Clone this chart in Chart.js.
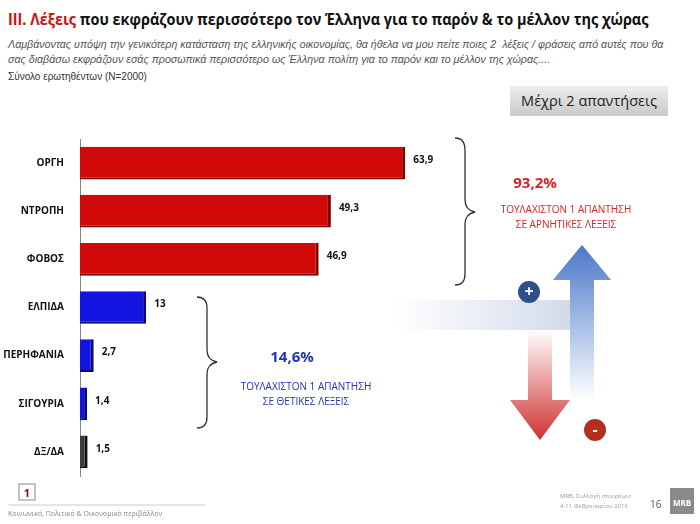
<!DOCTYPE html>
<html><head><meta charset="utf-8">
<script src="https://cdn.jsdelivr.net/npm/chart.js@4"></script>
<style>
body{margin:0;width:700px;height:524px;background:#fff;font-family:"Open Sans","DejaVu Sans",sans-serif;position:relative;overflow:hidden}
.a{position:absolute}
</style></head><body>
<div id="t" class="a" style="left:8px;top:8px;font-size:16px;font-weight:bold;color:#111;white-space:nowrap;font-family:'Open Sans',sans-serif;transform-origin:0 0"><span style="color:#d01010">ΙΙΙ. Λέξεις</span> που εκφράζουν περισσότερο τον Έλληνα για το παρόν &amp; το μέλλον της χώρας</div>
<div class="a" style="left:8px;top:37px;width:690px;font-size:10.7px;font-style:italic;color:#555;line-height:15px;font-family:'Liberation Sans',sans-serif">Λαμβάνοντας υπόψη την γενικότερη κατάσταση της ελληνικής οικονομίας, θα ήθελα να μου πείτε ποιες 2&nbsp; λέξεις / φράσεις από αυτές που θα<br>σας διαβάσω εκφράζουν εσάς προσωπικά περισσότερο ως Έλληνα πολίτη για το παρόν και το μέλλον της χώρας....</div>
<div class="a" style="left:8px;top:71px;font-size:10px;color:#333;font-family:'Liberation Sans',sans-serif">Σύνολο ερωτηθέντων (Ν=2000)</div>
<div class="a" style="left:510px;top:86px;width:158px;height:30px;background:linear-gradient(#eee,#c9c9c9);font-size:14.5px;color:#222;text-align:center;line-height:30px">Μέχρι 2 απαντήσεις</div>
<div class="a" style="left:0;top:125px;width:480px;height:365px"><canvas id="c"></canvas></div>
<svg class="a" style="left:0;top:0" width="700" height="524">
<defs>
<linearGradient id="bl" x1="0" y1="1" x2="0" y2="0"><stop offset="0" stop-color="#fff"/><stop offset="1" stop-color="#4a78c8"/></linearGradient>
<linearGradient id="rd" x1="0" y1="0" x2="0" y2="1"><stop offset="0" stop-color="#fff"/><stop offset="1" stop-color="#d03030"/></linearGradient>
<linearGradient id="bh" x1="0" y1="0" x2="1" y2="0"><stop offset="0" stop-color="#fff"/><stop offset="1" stop-color="#c8d2e6"/></linearGradient>
</defs>
<path d="M395,300 L570,300 L570,280 L553,280 L582,245 L611,280 L594,280 L594,330 L395,330 Z" fill="url(#bh)"/>
<path d="M570,300 L570,280 L553,280 L582,245 L611,280 L594,280 L594,400 L570,400 Z" fill="url(#bl)"/>
<path d="M528,330 L528,400 L510,400 L540,440 L570,400 L552,400 L552,330 Z" fill="url(#rd)"/>
<circle cx="529" cy="292" r="11" fill="#2d4f8a"/><text x="529" y="297" text-anchor="middle" fill="#fff" font-size="16" font-weight="bold">+</text>
<circle cx="595" cy="430" r="11" fill="#b03020"/><text x="595" y="435" text-anchor="middle" fill="#fff" font-size="16" font-weight="bold">-</text>
<path d="M455,138 Q465,138 465,150 L465,200 Q465,210 475,212 Q465,214 465,224 L465,274 Q465,285 455,285" fill="none" stroke="#333" stroke-width="1.3"/>
<path d="M197,297 Q207,297 207,308 L207,350 Q207,360 217,362 Q207,364 207,374 L207,417 Q207,428 197,428" fill="none" stroke="#333" stroke-width="1.3"/>
<text x="535" y="188" text-anchor="middle" fill="#e02020" font-size="15" font-weight="bold" font-family="Open Sans">93,2%</text>
<text x="566" y="213" text-anchor="middle" fill="#e02020" font-size="10" font-family="Open Sans">ΤΟΥΛΑΧΙΣΤΟΝ 1 ΑΠΑΝΤΗΣΗ</text>
<text x="566" y="228" text-anchor="middle" fill="#e02020" font-size="10" font-family="Open Sans">ΣΕ ΑΡΝΗΤΙΚΕΣ ΛΕΞΕΙΣ</text>
<text x="292" y="362" text-anchor="middle" fill="#2233bb" font-size="15" font-weight="bold" font-family="Open Sans">14,6%</text>
<text x="306" y="390" text-anchor="middle" fill="#2233bb" font-size="10" font-family="Open Sans">ΤΟΥΛΑΧΙΣΤΟΝ 1 ΑΠΑΝΤΗΣΗ</text>
<text x="306" y="405" text-anchor="middle" fill="#2233bb" font-size="10" font-family="Open Sans">ΣΕ ΘΕΤΙΚΕΣ ΛΕΞΕΙΣ</text>
<rect x="19" y="484" width="16" height="16" fill="#fff" stroke="#888"/>
<text x="27" y="497" text-anchor="middle" fill="#801010" font-size="11" font-weight="bold">1</text>
<line x1="8" y1="505" x2="205" y2="505" stroke="#ccc"/>
<text x="8" y="516" fill="#888" font-size="7">Κοινωνικό, Πολιτικό &amp; Οικονομικό περιβάλλον</text>
<text x="560" y="498" fill="#999" font-size="6">MRB, Συλλογή στοιχείων:</text>
<text x="560" y="508" fill="#999" font-size="6">4-11 Φεβρουαρίου 2016</text>
<text x="650" y="508" fill="#555" font-size="10">16</text>
<rect x="670" y="488" width="24" height="26" fill="#8a8a8a"/>
<text x="682" y="506" text-anchor="middle" fill="#fff" font-size="8" font-weight="bold">MRB</text>
</svg>
<script>
const t=document.getElementById('t');t.style.transform='scaleX('+(640/t.scrollWidth)+')';
const categories=["ΟΡΓΗ","ΝΤΡΟΠΗ","ΦΟΒΟΣ","ΕΛΠΙΔΑ","ΠΕΡΗΦΑΝΙΑ","ΣΙΓΟΥΡΙΑ","ΔΞ/ΔΑ"];
const values=[63.9,49.3,46.9,13,2.7,1.4,1.5];
const valueLabels=["63,9","49,3","46,9","13","2,7","1,4","1,5"];
const colors=["#d00808","#d00808","#d00808","#1414e0","#1414e0","#1414e0","#3a3a3a"];
const borders=["#800000","#800000","#800000","#0a0a80","#0a0a80","#0a0a80","#111"];
const lbl={id:'lbl',afterDatasetsDraw(ch){const c=ch.ctx;const m=ch.getDatasetMeta(0);c.save();c.font='bold 10px "Open Sans"';c.fillStyle='#111';c.textBaseline='middle';
m.data.forEach((b,i)=>c.fillText(valueLabels[i],b.x+8,b.y-3));c.restore();}};
new Chart(document.getElementById('c'),{type:'bar',data:{labels:categories,datasets:[{data:values,backgroundColor:colors,borderColor:borders,borderWidth:{right:3,bottom:2},barPercentage:0.68,categoryPercentage:1}]},
options:{indexAxis:'y',responsive:true,maintainAspectRatio:false,animation:false,layout:{padding:0},
plugins:{legend:{display:false},tooltip:{enabled:false}},
scales:{x:{min:0,max:78.6,display:false},y:{grid:{display:false},border:{color:'#888'},ticks:{color:'#111',font:{size:10,weight:'bold',family:'Open Sans'},padding:8},afterFit(s){s.width=80;}}}},plugins:[lbl]});
</script>
</body></html>
